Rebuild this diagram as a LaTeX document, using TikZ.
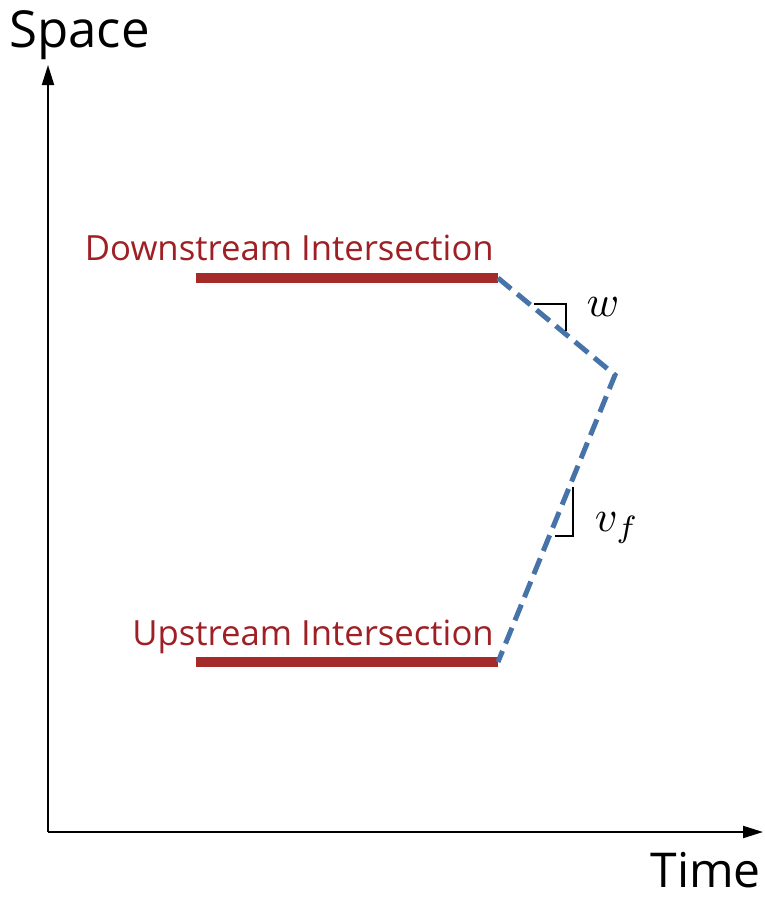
\documentclass[tikz,border=0pt]{standalone}
\usepackage{fontspec}
\setmainfont{Open Sans}
\usetikzlibrary{arrows.meta}
\definecolor{barred}{HTML}{A52A2A}
\definecolor{txtred}{HTML}{9E1F24}
\definecolor{dashblue}{HTML}{4674A8}
\tikzset{
  axis/.style={line width=2pt,-{Triangle[length=20pt,width=12pt]}},
  bar/.style={line width=10pt,barred},
  traj/.style={line width=5pt,dashblue,dash pattern=on 17pt off 8pt},
  slope/.style={line width=1.2pt,black},
  lbl/.style={inner sep=0pt,font=\fontsize{34.7}{38}\selectfont,txtred},
  axlbl/.style={inner sep=0pt,font=\fontsize{48}{52}\selectfont},
  mlbl/.style={inner sep=0pt}
}
\begin{document}
\begin{tikzpicture}[x=1pt,y=-1pt]
\useasboundingbox (0,0) rectangle (765,900);
\coordinate (O) at (48,832);
\coordinate (ytip) at (48,65);
\coordinate (xtip) at (763,832);
\draw[axis] (O) -- (ytip);
\draw[axis] (O) -- (xtip);
\node[axlbl,anchor=base west,font=\fontsize{51}{55}\selectfont] (space) at (9,47) {Space};
\node[axlbl,anchor=base east] (time) at (761,887) {Time};
\coordinate (d1) at (196,278);
\coordinate (d2) at (498,278);
\coordinate (u1) at (196,662);
\coordinate (u2) at (498,662);
\coordinate (pk) at (615,375);
\draw[bar] (d1) -- (d2);
\draw[bar] (u1) -- (u2);
\node[lbl,anchor=base east] (down) at (494,260) {Downstream Intersection};
\node[lbl,anchor=base east] (up) at (494,645) {Upstream Intersection};
\draw[traj] (d2) -- (pk) -- (u2);
\coordinate (w1) at (534,304);
\coordinate (w2) at (566,304);
\coordinate (w3) at (566,331);
\draw[slope] (w1) -- (w2) -- (w3);
\node[mlbl] (w) at (603,307) {\scalebox{4.4}{$w$}};
\coordinate (v1) at (573,487);
\coordinate (v2) at (573,536);
\coordinate (v3) at (555,536);
\draw[slope] (v1) -- (v2) -- (v3);
\node[mlbl] (vf) at (617,528) {\scalebox{4.4}{$v_f$}};
\end{tikzpicture}
\end{document}
